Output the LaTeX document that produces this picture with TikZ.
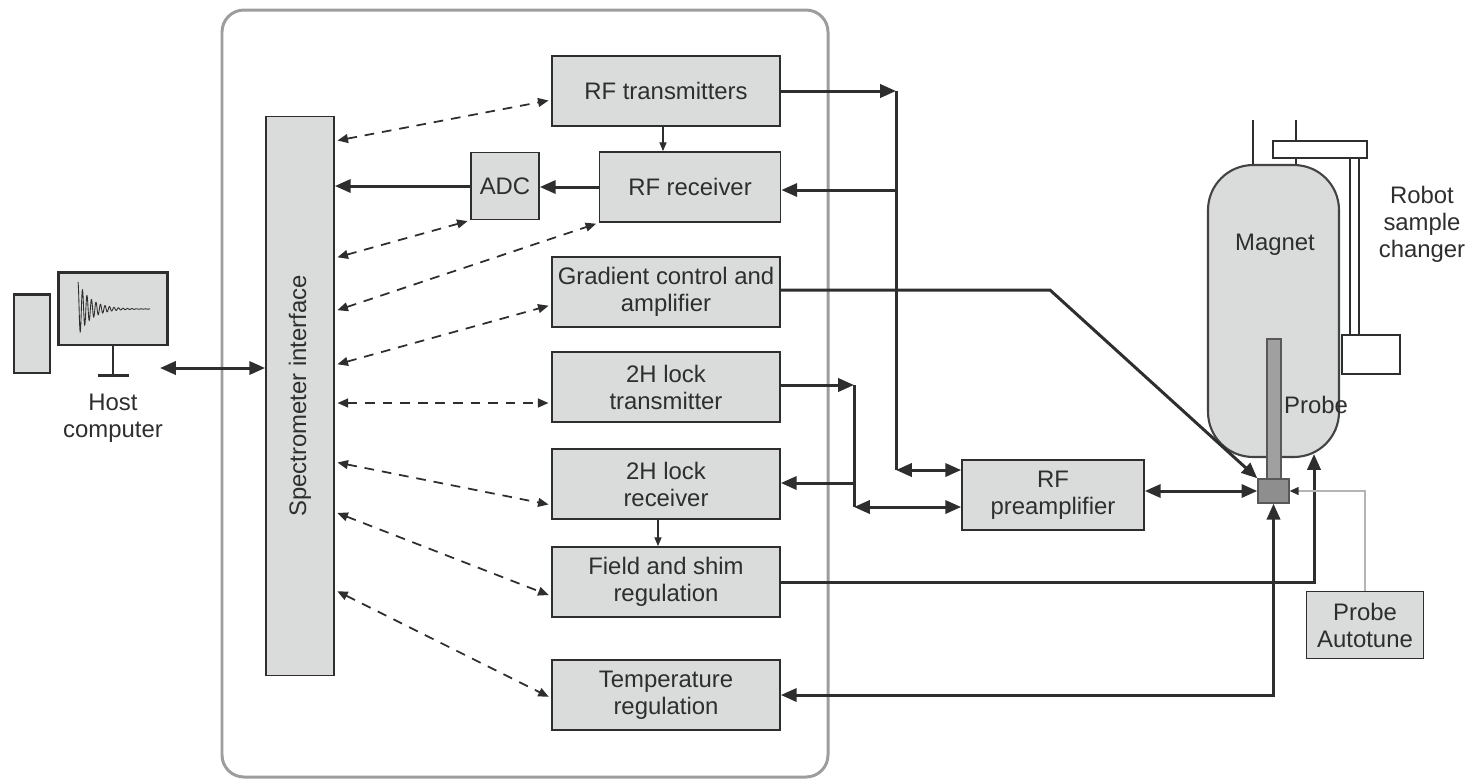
\documentclass[tikz,border=0pt]{standalone}
\usepackage{fontspec}
\setmainfont{Liberation Sans}
\usetikzlibrary{arrows.meta}

\definecolor{boxgray}{HTML}{DADBDB}
\definecolor{inkgray}{HTML}{2E2E2E}
\definecolor{framegray}{HTML}{9D9D9D}
\definecolor{rodgray}{HTML}{A0A0A0}
\definecolor{headgray}{HTML}{8E8E8E}
\definecolor{wiregray}{HTML}{B4B4B4}

\begin{document}
\begin{tikzpicture}[x=0.02cm, y=-0.02cm,
  every node/.style = {font=\fontsize{13.6}{15.4}\selectfont,
    text=inkgray, align=center},
  unit/.style = {draw=inkgray, line width=1pt, fill=boxgray, inner sep=0pt,
    minimum width=4.56cm, minimum height=1.4cm},
  sig/.style = {draw=inkgray, line width=1.7pt,
    -{Triangle[length=9pt,width=7.5pt]}},
  bus/.style = {sig, {Triangle[length=9pt,width=7.5pt]}-{Triangle[length=9pt,width=7.5pt]}},
  ctl/.style = {draw=inkgray, line width=1pt, dash pattern=on 5.5pt off 4.5pt,
    shorten <=1.5pt, shorten >=1.5pt,
    {Triangle[length=6pt,width=5pt]}-{Triangle[length=6pt,width=5pt]}},
  feed/.style = {draw=inkgray, line width=0.7pt,
    -{Triangle[length=5pt,width=4pt]}}]
  \useasboundingbox (0,0) rectangle (1474,779);

  % console frame
  \draw[framegray, line width=1.7pt, rounded corners=0.44cm] (222,10) rectangle (828,777);

  % host computer
  \node[draw=inkgray, line width=1.7pt, fill=boxgray, inner sep=0pt,
    minimum width=0.72cm, minimum height=1.58cm] (tower) at (32,333.5) {};
  \node[draw=inkgray, line width=1.7pt, fill=boxgray, inner sep=0pt,
    minimum width=2.2cm, minimum height=1.46cm] (screen) at (113,308.5) {};
  \draw[inkgray, line width=0.5pt] plot[domain=0:72, samples=400]
    ({78+\x}, {309-27*exp(-\x/13)*cos(80*\x)});
  \draw[inkgray, line width=1.7pt] (screen.south) -- ++(0,29) coordinate (foot);
  \draw[inkgray, line width=1.7pt] (foot) ++(-15.5,0) -- ++(31,0);
  \node (host) at (113,418) {Host\\computer};
  \coordinate (hostport) at (160,368);

  % console units
  \node[unit, minimum width=1.36cm, minimum height=11.18cm] (spec) at (300,396)
    {\rotatebox{90}{Spectrometer interface}};
  \node[unit] (rftx) at (666,91) {RF transmitters};
  \node[unit, minimum width=1.36cm, minimum height=1.34cm] (adc) at (505,186) {ADC};
  \node[unit, minimum width=3.62cm] (rfrx) at (690,187) {RF receiver};
  \node[unit] (grad) at (666,292) {Gradient control and\\amplifier};
  \node[unit] (lktx) at (666,387) {2H lock\\transmitter};
  \node[unit] (lkrx) at (666,484) {2H lock\\receiver};
  \node[unit] (shim) at (666,582) {Field and shim\\regulation};
  \node[unit] (temp) at (666,695) {Temperature\\regulation};
  \node[unit, minimum width=3.64cm] (pre) at (1053,495) {RF\\preamplifier};
  \node[unit, minimum width=2.34cm, minimum height=1.34cm] (tune) at (1365,625) {Probe\\Autotune};

  % magnet, robot and probe
  \draw[inkgray, line width=1.2pt] (1253,120) -- (1253,168) (1296,120) -- (1296,168);
  \node[draw=inkgray!90, line width=1.2pt, fill=boxgray, rounded corners=0.9cm,
    minimum width=2.62cm, minimum height=5.84cm, inner sep=0pt] (magnet) at (1273.5,311) {};
  \node (maglabel) at (1275,245) {Magnet};
  \draw[inkgray, line width=1.1pt, fill=white] (1350,156) rectangle (1359,336);
  \draw[inkgray, line width=1.1pt, fill=white] (1273,141) rectangle (1367,158);
  \draw[inkgray, line width=1.1pt, fill=white] (1342,335) rectangle (1400,374);
  \node (robot) at (1422,224) {Robot\\sample\\changer};
  \draw[draw=inkgray!80, line width=0.8pt, fill=rodgray] (1267,339) rectangle (1281,480);
  \node[draw=inkgray!80, line width=0.8pt, fill=headgray, inner sep=0pt,
    minimum width=0.62cm, minimum height=0.48cm] (probe) at (1273.5,491) {};
  \node (problabel) at (1316,405) {Probe};
  \coordinate (magin) at (1314,454);

  % branch points
  \coordinate (j1) at (896,91);
  \coordinate (j2) at (896,190);
  \coordinate (j3) at (896,470);
  \coordinate (k1) at (854,385);
  \coordinate (k2) at (854,483);
  \coordinate (k3) at (854,507);
  \coordinate (g1) at (1050,290);

  % signal paths
  \draw[bus] (hostport) -- (spec.west |- hostport);
  \draw[sig] (rfrx.west) -- (adc.east |- rfrx.west);
  \draw[sig] (adc.west) -- (spec.east |- adc.west);
  \draw[feed] (rftx.south -| 663,0) -- (rfrx.north -| 663,0);
  \draw[feed] (lkrx.south -| 658,0) -- (shim.north -| 658,0);

  \draw[sig] (rftx.east) -- (j1);
  \draw[draw=inkgray, line width=1.7pt] (j1) -- (j3);
  \draw[sig] (j2) -- (rfrx.east |- j2);
  \draw[bus] (j3) -- (pre.west |- j3);
  \draw[sig] (lktx.east |- k1) -- (k1);
  \draw[draw=inkgray, line width=1.7pt] (k1) -- (k3);
  \draw[sig] (k2) -- (lkrx.east |- k2);
  \draw[bus] (k3) -- (pre.west |- k3);
  \draw[sig] (grad.east |- g1) -- (g1) -- (probe.north west);
  \draw[bus] (pre.east |- probe.west) -- (probe.west);
  \draw[sig] (shim.east) -- (shim.east -| magin) -- (magin);
  \draw[bus] (probe.south) -- (probe.south |- temp.east) -- (temp.east);
  \draw[wiregray, line width=0.6pt,
    -{Triangle[length=5pt,width=4.5pt,color=inkgray]}] (tune.north) |- (probe.east);

  % control lines
  \draw[ctl] (spec.east |- 0,141) -- (rftx.west |- 0,100);
  \draw[ctl] (spec.east |- 0,258) -- (adc.south west);
  \draw[ctl] (spec.east |- 0,311) -- (rfrx.south west);
  \draw[ctl] (spec.east |- 0,365) -- (grad.west |- 0,305);
  \draw[ctl] (spec.east |- 0,403) -- (lktx.west |- 0,403);
  \draw[ctl] (spec.east |- 0,462) -- (lkrx.west |- 0,505);
  \draw[ctl] (spec.east |- 0,512) -- (shim.west |- 0,596);
  \draw[ctl] (spec.east |- 0,590) -- (temp.west |- 0,698);
\end{tikzpicture}
\end{document}
